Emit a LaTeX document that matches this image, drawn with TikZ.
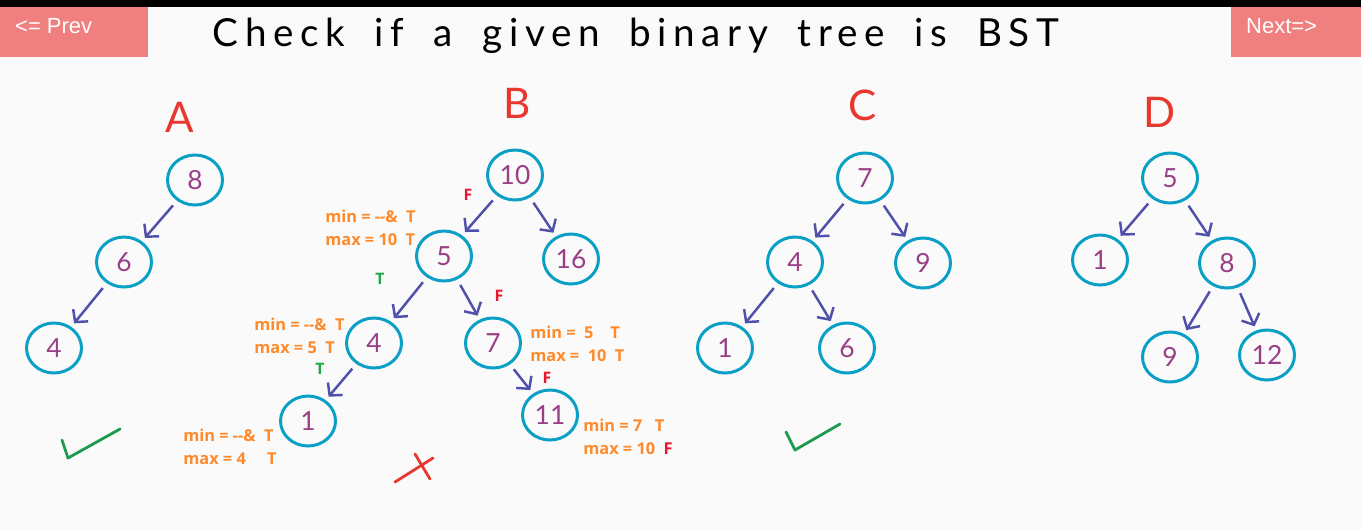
\documentclass[tikz,border=0pt]{standalone}
\usepackage{fontspec}
\usepackage{xcolor}
\usetikzlibrary{arrows.meta,positioning,shapes.geometric}
\newfontfamily\annfont{Open Sans}
\newfontfamily\handfont{Lato}
\newfontfamily\titlefont{Lato}[LetterSpace=17,WordSpace=1.8]
\newfontfamily\btnfont{Liberation Sans}

\definecolor{btnpink}{RGB}{240,128,128}
\definecolor{ringcyan}{RGB}{10,160,198}
\definecolor{digitpurple}{RGB}{154,63,134}
\definecolor{edgeblue}{RGB}{80,80,170}
\definecolor{annorange}{RGB}{255,138,43}
\definecolor{tgreen}{RGB}{30,170,70}
\definecolor{fred}{RGB}{235,20,45}
\definecolor{lettered}{RGB}{232,56,46}
\definecolor{tickgreen}{RGB}{30,154,78}
\definecolor{pagebg}{RGB}{250,250,250}

\begin{document}
\begin{tikzpicture}[
			x=0.02cm, y=-0.02cm,
			treenode/.style={
					ellipse, draw=ringcyan, line width=1.7pt,
					minimum width=1.1cm, minimum height=1.0cm,
					inner sep=0pt, text=digitpurple,
					font=\handfont\fontsize{15}{15}\selectfont
				},
			edge/.style={-{Straight Barb[length=5pt,width=11pt]}, edgeblue,
					line width=1.4pt, shorten <=3.5pt, shorten >=2.5pt},
			treename/.style={text=lettered, font=\handfont\fontsize{24}{24}\selectfont},
			ann/.style={anchor=west, align=left, text=annorange, inner sep=0pt,
					font=\annfont\bfseries\fontsize{9.3}{13}\selectfont},
			flag/.style={inner sep=0pt, font=\annfont\bfseries\fontsize{9}{10}\selectfont},
			btn/.style={fill=btnpink, draw=none},
			verdict/.style={line width=1.6pt, line cap=round, line join=round}
		]

		% Page
		\useasboundingbox (0,0) rectangle (1361,529);
		\fill[pagebg] (0,0) rectangle (1361,529);
		\fill[black] (0,0) rectangle (1361,7);

		% Buttons and title
		\fill[btn] (0,7) rectangle (148,57);
		\fill[btn] (1231,7) rectangle (1361,57);
		\node[anchor=west, text=white, font=\btnfont\fontsize{12.5}{12.5}\selectfont] (prev) at (9,26) {<= Prev};
		\node[anchor=west, text=white, font=\btnfont\fontsize{12.5}{12.5}\selectfont] (next) at (1240,26) {Next=>};
		\node[font=\titlefont\fontsize{22}{22}\selectfont] (title) at (636,36) {Check if a given binary tree is BST};

		% Tree A
		\node[treename] (nameA) at (180,117) {A};
		\node[treenode] (a8) at (195,180) {8};
		\node[treenode] (a6) at (124,262) {6};
		\node[treenode] (a4) at (54,348) {4};
		\draw[edge] (a8) -- (a6);
		\draw[edge] (a6) -- (a4);

		% Tree B
		\node[treename] (nameB) at (517,103) {B};
		\node[treenode] (b10) at (515,175) {10};
		\node[treenode] (b5) at (444,256) {5};
		\node[treenode] (b16) at (571,259) {16};
		\node[treenode] (b4) at (374,343) {4};
		\node[treenode] (b7) at (493,343) {7};
		\node[treenode] (b1) at (308,421) {1};
		\node[treenode] (b11) at (550,415) {11};
		\draw[edge] (b10) -- (b5);
		\draw[edge] (b10) -- (b16);
		\draw[edge] (b5) -- (b4);
		\draw[edge] (b5) -- (b7);
		\draw[edge] (b4) -- (b1);
		\draw[edge] (b7) -- (b11);

		% B: min/max checks
		\node[ann] (ann5) at (325,228) {min = -{}-\&\ \ T\\max = 10\ \ T};
		\node[ann] (ann4) at (254,336) {min = -{}-\&\ \ T\\max = 5\ \ T};
		\node[ann] (ann7) at (530,344) {min =\ \ 5\ \ \ \ T\\max =\ \ 10\ \ T};
		\node[ann] (ann1) at (183,447) {min = -{}-\&\ \ T\\max = 4\ \ \ \ \ T};
		\node[ann] (ann11) at (583,437) {min = 7\ \ \ T\\max = 10\ \ \textcolor{fred}{F}};
		\node[flag, text=fred] (f10) at (468,195) {F};
		\node[flag, text=tgreen] (t5) at (380,279) {T};
		\node[flag, text=fred] (f5) at (499,296) {F};
		\node[flag, text=tgreen] (t4) at (320,369) {T};
		\node[flag, text=fred] (f7) at (547,378) {F};

		% Tree C
		\node[treename] (nameC) at (863,105) {C};
		\node[treenode] (c7) at (865,178) {7};
		\node[treenode] (c4) at (795,262) {4};
		\node[treenode] (c9) at (923,263) {9};
		\node[treenode] (c1) at (725,348) {1};
		\node[treenode] (c6) at (847,348) {6};
		\draw[edge] (c7) -- (c4);
		\draw[edge] (c7) -- (c9);
		\draw[edge] (c4) -- (c1);
		\draw[edge] (c4) -- (c6);

		% Tree D
		\node[treename] (nameD) at (1160,112) {D};
		\node[treenode] (d5) at (1170,178) {5};
		\node[treenode] (d1) at (1100,260) {1};
		\node[treenode] (d8) at (1227,263) {8};
		\node[treenode] (d9) at (1170,357) {9};
		\node[treenode] (d12) at (1267,355) {12};
		\draw[edge] (d5) -- (d1);
		\draw[edge] (d5) -- (d8);
		\draw[edge] (d8) -- (d9);
		\draw[edge] (d8) -- (d12);

		% Verdicts
		\draw[verdict, tickgreen] (62,440) -- (68,458) -- (120,429);
		\draw[verdict, tickgreen] (786,432) -- (795,450) -- (840,424);
		\draw[verdict, lettered] (395,482) -- (433,458);
		\draw[verdict, lettered] (415,454) -- (430,479);

	\end{tikzpicture}
\end{document}
